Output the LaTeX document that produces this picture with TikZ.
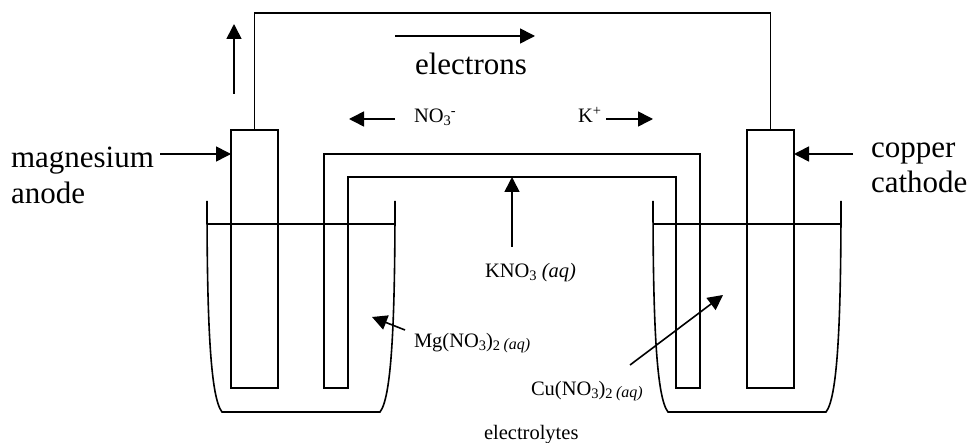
\documentclass[tikz,border=0pt]{standalone}
\usepackage{fontspec}
\setmainfont{Liberation Serif}
\usetikzlibrary{arrows.meta}
\newcommand{\bigtxt}{\fontsize{31}{35.5}\selectfont}
\newcommand{\smalltxt}{\fontsize{20.5}{24}\selectfont}
\newcommand{\subaq}[1]{\raisebox{-3pt}{\fontsize{14.5}{16}\selectfont #1}}
\newcommand{\subiq}[1]{\raisebox{-2pt}{\fontsize{16}{18}\selectfont #1}}
\newcommand{\supr}[1]{\raisebox{7pt}{\fontsize{14.5}{16}\selectfont #1}}
\tikzset{
  lineart/.style={line width=1.6pt,line join=miter,black},
  flow/.style={line width=1.6pt,black,-{Triangle[length=15pt,width=15pt]},shorten >=0pt},
  electrode/.style={draw,line width=1.6pt,minimum width=47pt,minimum height=258pt,inner sep=0pt,outer sep=0pt},
  big/.style={anchor=base west,inner sep=0pt,outer sep=0pt,font=\bigtxt,align=left},
  small/.style={anchor=base west,inner sep=0pt,outer sep=0pt,font=\smalltxt},
}
\begin{document}
\begin{tikzpicture}[x=1pt,y=-1pt]
\useasboundingbox (0,0) rectangle (971,443);
\fill[white] (0,0) rectangle (971,443);
% electrodes
\node[electrode] (anodeBar) at (254.5,259) {};
\node[electrode] (cathodeBar) at (770.5,259) {};
% external wire
\coordinate (wireTop) at (512,13);
\draw[lineart] (anodeBar.north) |- (wireTop) -| (cathodeBar.north);
% salt bridge
\coordinate (bridgeOuterL) at (324,388);
\coordinate (bridgeInnerL) at (348,388);
\coordinate (bridgeOuterR) at (700,388);
\coordinate (bridgeInnerR) at (676,388);
\draw[lineart] (bridgeInnerL) -- (bridgeOuterL) -- (324,154) -- (700,154) -- (bridgeOuterR) -- (bridgeInnerR) -- (676,177) -- (348,177) -- cycle;
% beakers
\draw[lineart] (207,201) .. controls (207,330) and (211,398) .. (222,412) -- (380,412) .. controls (391,398) and (395,330) .. (395,201);
\draw[lineart] (653,201) .. controls (653,330) and (657,398) .. (668,412) -- (826,412) .. controls (837,398) and (841,330) .. (841,201);
\draw[lineart] (207,224) -- (395,224);
\draw[lineart] (653,224) -- (841,224);
% labels
\node[big] (mg1) at (11,168) {magnesium};
\node[big] (mg2) at (11,204) {anode};
\node[big] (cu1) at (871,158) {copper};
\node[big] (cu2) at (871,193) {cathode};
\node[big] (elec) at (415,75) {electrons};
\node[small] (no3) at (414,123) {NO\subaq{3}\supr{-}};
\node[small] (kion) at (578,123) {K\supr{+}};
\node[small] (kno3) at (485,278) {KNO\subaq{3} \textit{(aq)}};
\node[small] (mgno) at (414,347) {Mg(NO\subaq{3})\subaq{2}\,\subiq{\textit{(aq)}}};
\node[small] (cuno) at (531,395) {Cu(NO\subaq{3})\subaq{2}\,\subiq{\textit{(aq)}}};
\node[small] (lyte) at (484,439) {electrolytes};
% arrows
\coordinate (a1s) at (234,94); \coordinate (a1e) at (234,24);
\draw[flow] (a1s) -- (a1e);
\coordinate (a2s) at (395,36); \coordinate (a2e) at (535,36);
\draw[flow] (a2s) -- (a2e);
\coordinate (a3s) at (395,119); \coordinate (a3e) at (349,119);
\draw[flow] (a3s) -- (a3e);
\coordinate (a4s) at (606,119); \coordinate (a4e) at (653,119);
\draw[flow] (a4s) -- (a4e);
\coordinate (a5s) at (160,154);
\draw[flow] (a5s) -- (anodeBar.west |- a5s);
\coordinate (a6s) at (853,154);
\draw[flow] (a6s) -- (cathodeBar.east |- a6s);
\coordinate (a7s) at (512,247); \coordinate (a7e) at (512,177);
\draw[flow] (a7s) -- (a7e);
\coordinate (a8s) at (405,330); \coordinate (a8e) at (372,317);
\draw[flow] (a8s) -- (a8e);
\coordinate (a9s) at (630,365); \coordinate (a9e) at (723,295);
\draw[flow] (a9s) -- (a9e);
\end{tikzpicture}
\end{document}
